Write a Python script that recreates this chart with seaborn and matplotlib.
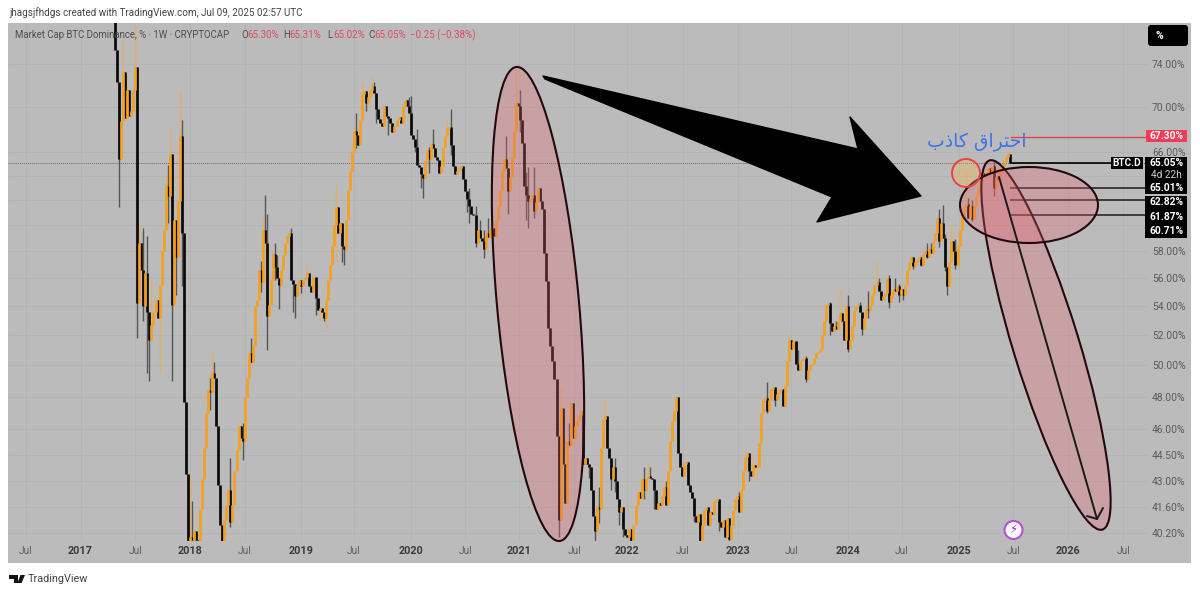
import numpy as np
import pandas as pd
import matplotlib
matplotlib.use("Agg")
import matplotlib.pyplot as plt
from matplotlib.patches import Ellipse, Polygon, Rectangle, FancyBboxPatch, Circle
from matplotlib.transforms import IdentityTransform
import seaborn as sns

closes = [
75.4,72.3,65.4,68.7,73.2,69.0,71.5,69.2,69.6,71.5,
73.7,54.2,58.6,56.6,54.0,56.4,53.6,51.7,52.7,53.6,
54.4,53.2,55.5,58.0,59.6,63.1,62.3,65.8,54.1,60.4,
57.6,61.9,67.4,59.4,47.7,43.4,39.8,40.0,39.85,40.3,
39.85,39.8,41.5,43.1,44.9,47.0,48.4,48.3,49.5,49.2,
46.2,42.8,40.6,39.8,40.9,41.7,42.5,40.8,41.7,43.6,
44.8,46.2,45.5,45.3,48.0,49.2,50.8,50.2,51.3,54.0,
54.4,56.6,55.7,59.6,58.6,53.3,54.1,55.9,57.8,56.8,
56.0,55.5,56.6,57.7,58.6,59.2,59.4,55.9,55.6,54.7,
55.5,55.9,55.4,55.9,56.1,56.4,55.4,55.0,56.1,54.6,
53.7,53.9,53.6,53.2,54.4,55.9,57.0,58.4,60.0,61.4,
59.4,60.2,58.4,58.2,60.4,62.8,64.4,66.0,67.8,67.5,
66.6,68.8,71.2,71.4,70.3,70.9,71.5,71.9,71.3,69.8,
68.9,68.5,68.3,70.1,69.2,69.0,68.5,67.7,68.3,68.8,
69.1,68.5,70.1,70.6,70.1,69.4,67.5,67.1,66.4,64.9,
64.7,64.1,63.8,65.2,66.2,65.4,66.7,66.3,65.6,65.3,
64.2,64.8,66.4,67.4,68.1,68.2,66.6,64.8,64.1,64.4,
64.6,64.8,63.7,62.7,62.1,61.5,60.9,60.8,58.6,59.6,
59.0,58.8,58.2,59.4,59.1,59.7,59.8,59.2,60.4,61.5,
62.8,64.4,65.4,64.6,62.7,63.9,65.6,67.8,70.3,70.1,
68.8,66.8,63.1,62.4,61.9,62.2,62.4,61.1,61.8,63.0,
61.9,61.3,57.9,55.8,52.5,51.3,50.3,49.1,45.6,40.9,
47.3,44.0,41.8,45.3,45.1,47.6,45.5,46.2,46.5,46.9,
47.1,44.0,44.3,44.0,43.8,42.5,41.1,40.3,41.6,41.5,
44.9,46.6,46.8,44.9,44.3,43.1,43.8,43.0,42.0,41.3,
41.6,40.4,40.1,40.0,40.4,39.8,40.6,41.7,42.4,42.1,
43.1,42.5,43.2,43.3,43.2,43.1,42.5,41.5,41.8,41.7,
42.2,42.7,41.7,43.6,45.3,46.5,47.1,48.0,44.6,43.8,
43.3,44.0,44.1,42.8,42.4,42.1,41.1,40.8,41.2,39.8,
40.6,41.4,41.6,40.6,41.3,41.2,41.9,42.0,40.8,40.5,
40.9,40.0,41.0,39.9,40.6,41.4,42.0,42.2,41.3,42.5,
43.6,44.4,44.6,43.6,43.3,43.9,43.8,43.8,45.2,47.0,
47.8,47.9,47.1,47.8,48.5,48.6,47.8,48.2,48.4,48.5,
47.4,48.7,50.3,51.7,51.1,51.6,50.1,49.7,50.3,50.4,
50.5,49.1,49.7,50.0,50.1,50.5,50.8,50.9,51.1,52.0,
53.0,54.1,54.2,52.8,52.3,52.6,52.4,53.0,53.5,53.0,
51.7,54.0,51.1,51.7,52.6,53.7,54.0,54.1,53.6,52.4,
53.2,53.8,53.7,54.1,54.8,55.5,55.7,55.1,54.4,54.7,
54.9,56.0,54.3,54.8,55.2,55.1,55.4,54.8,55.2,54.8,
55.5,56.6,57.2,57.6,56.9,57.2,57.4,57.6,57.0,57.8,
58.0,57.6,58.2,57.9,58.8,59.4,60.6,58.8,60.2,59.0,
56.8,55.4,57.2,58.8,58.0,57.0,58.4,59.6,60.8,61.5,
61.7,60.6,61.5,60.5,61.5,62.4,63.0,63.6,64.2,64.0,
64.3,64.6,64.3,64.8,63.0,63.9,63.7,64.3,64.8,65.2,
65.6,65.8,65.05]
first_open = 79.0

highs = {0:79,2:72,4:76.5,10:78,12:60,14:59.8,16:59.2,18:56,26:64.9,25:64,27:68,32:71.5,33:68.8,
 38:41.9,37:43.4,47:49.2,48:50.8,49:50.2,57:44.3,63:46.4,67:51.8,69:52.3,72:57.3,74:62.4,75:60.9,
 73:60.8,79:58.6,80:57.7,87:59.8,95:57,99:55.7,109:63.3,112:60.2,119:69.4,122:72.3,127:72.9,128:72.3,
 145:70.9,146:71,149:68,155:66.4,157:68,164:68.8,166:69.8,175:63,178:61.5,180:60.4,182:59.6,184:60.6,
 193:67.4,198:73.5,200:71.5,203:64.3,204:64.7,207:64.7,220:48.6,221:47.1,224:46.4,239:42.7,242:47.8,
 247:44.3,261:43.8,263:44,264:43.8,272:43,297:42.1,308:42.4,313:44.6,315:44.5,317:44,322:48.9,333:52.2,
 337:51,341:50.6,353:54.3,356:53,358:55.2,361:54,362:54.8,368:54.3,372:55.1,376:57.3,377:56,382:56.2,
 385:56,387:55.6,401:58.6,403:58.6,407:61.3,409:61.6,410:59.3,413:60,415:58.9,420:64.4,421:62.2,423:62,
 434:65.2,441:66.2,442:65.31}
lows = {2:61.4,11:51.8,14:53,16:49.5,17:49,22:49.5,26:60.2,28:49,30:54.8,33:55.4,47:47.2,57:40.5,63:44.2,
 72:55,75:51,79:55.9,81:53.8,88:53.6,89:53.2,92:54.9,99:53.4,101:53,103:53,104:52.5,109:57.2,112:57.2,
 113:57,119:66.3,124:69.6,129:68.5,135:67.5,148:66,151:63,152:62.2,155:64.2,166:65.7,174:61,175:60.2,
 178:58.3,182:57.5,194:60.9,200:67.7,203:60.4,204:59.8,207:60.6,219:40,234:43.2,237:39.8,239:40.7,245:42.5,
 247:42.4,248:42.3,249:40.6,251:40,261:42,266:41.5,286:40.8,298:40.3,303:39.8,313:43,317:42.9,322:47,326:47.4,
 341:48.9,353:52,362:50.9,369:52,372:53.2,382:53.9,387:54.3,389:54.4,394:56.7,398:56.9,401:57.5,407:58.3,
 410:56.5,411:54.8,415:56.7,423:60.3,434:62.3,442:65.02}

tick_bars = [-44,-17,10,37,64,92,118,146,173,199.5,226.7,253,280.5,307.6,334,362,388.6,416.8,443.5,470.6,497.8]
tick_names = ["Jul","2017","Jul","2018","Jul","2019","Jul","2020","Jul","2021","Jul","2022","Jul","2023","Jul","2024","Jul","2025","Jul","2026","Jul"]
price_ticks = [74,70,66,58,56,54,52,50,48,46,44.5,43,41.6,40.2]
price_names = ["74.00%","70.00%","66.00%","58.00%","56.00%","54.00%","52.00%","50.00%","48.00%","46.00%","44.50%","43.00%","41.60%","40.20%"]
grid_only = [64,62,60]

last_price = 65.05
alert_price = 67.30
fib_lines = [63.01,61.98,60.78]
label_rows = ["65.01%","62.82%","61.87%","60.71%"]

W,H = 1200,593
GREY = "#bbbbbb"
GRID = "#b3b3b3"
ORANGE = "#f5a01e"
BLACK = "#0a0a0a"

sns.set_theme(style="white")
plt.rcParams["font.family"] = ["Roboto","DejaVu Sans"]
plt.rcParams["axes.unicode_minus"] = False

fig = plt.figure(figsize=(W/100,H/100),dpi=100,facecolor="white")
def P(x,y): return (x,H-y)

fig.add_artist(Rectangle(P(8,563),1183,540,transform=IdentityTransform(),facecolor=GREY,edgecolor="none",zorder=-1))

ax = fig.add_axes([8/W,(H-541)/H,(1147-8)/W,518/H],facecolor=GREY)
ax.set_yscale("log")

opens = [first_open]+closes[:-1]
bars = np.arange(len(closes))
body_rows,wick_rows = [],[]
for b,o,c in zip(bars,opens,closes):
    d = "up" if c>=o else "down"
    body_rows += [(b,o,d),(b,c,d)]
    hi = highs.get(b,max(o,c)); lo = lows.get(b,min(o,c))
    wick_rows += [(b,hi,d),(b,lo,d)]
body = pd.DataFrame(body_rows,columns=["bar","price","dir"])
wick = pd.DataFrame(wick_rows,columns=["bar","price","dir"])

sns.lineplot(data=wick,x="bar",y="price",units="bar",hue="dir",estimator=None,sort=False,
             palette={"up":"#e9ae58","down":"#454545"},linewidth=1.0,alpha=0.85,legend=False,ax=ax,solid_capstyle="butt")
sns.lineplot(data=body,x="bar",y="price",units="bar",hue="dir",estimator=None,sort=False,
             palette={"up":ORANGE,"down":BLACK},linewidth=1.95,legend=False,ax=ax,solid_capstyle="butt")

K = np.log(74/40.2)/469
ax.set_ylim(40.2*np.exp(-8*K),40.2*np.exp(510*K))
PXBAR = 2.0253
ax.set_xlim((8-115)/PXBAR,(1147-115)/PXBAR)
ax.set_xlabel("");ax.set_ylabel("")
for s in ax.spines.values(): s.set_visible(False)

ax.yaxis.tick_right()
ax.minorticks_off()
ax.set_yticks(price_ticks)
ax.set_yticklabels(price_names)
ax.yaxis.set_minor_locator(matplotlib.ticker.NullLocator())
ax.tick_params(axis="y",length=0,pad=3.6,labelsize=7.4,labelcolor="#5a5a5a")
ax.set_xticks(tick_bars)
ax.set_xticklabels(tick_names)
ax.tick_params(axis="x",length=0,pad=3.5,labelsize=7.4,labelcolor="#606060")
for lab,name in zip(ax.get_xticklabels(),tick_names):
    if name!="Jul":
        lab.set_fontweight("bold"); lab.set_color("#3a3a3a"); lab.set_fontsize(7.8)
ax.grid(True,axis="both",color=GRID,linewidth=0.6)
for p in grid_only:
    ax.axhline(p,color=GRID,linewidth=0.6,zorder=0.5)
ax.set_axisbelow(True)

# price lines
xmax = ax.get_xlim()[1]
ax.axhline(last_price,color="#6a6a6a",linewidth=0.7,linestyle=(0,(1,1)),zorder=1)
ax.hlines(alert_price,bars[-1],xmax,color="#e8404f",linewidth=1.0,zorder=5)
ax.hlines(last_price,bars[-1],(1112-115)/PXBAR,color="black",linewidth=1.2,zorder=5)
ax.hlines(fib_lines,bars[-1],xmax,color="#1a1a1a",linewidth=1.1,zorder=5)

T = IdentityTransform()
# ellipses
PINK = (227/255,103/255,113/255,0.30)
EDGE = "#23090f"
for (cx,cy,a,b,ang) in [(538,304,238,41,95.2),(1046,345,193,33,107),(1029,205,69,38,0)]:
    fig.add_artist(Ellipse(P(cx,cy),2*a,2*b,angle=ang,transform=T,facecolor=PINK,edgecolor=EDGE,linewidth=1.5,zorder=3))
fig.add_artist(Circle(P(966,173),14,transform=T,facecolor=(1,0.72,0.25,0.30),edgecolor="#e8404f",linewidth=1.4,zorder=3))
# big arrow
arrow = [(543,76),(858,149),(850,117),(921,196),(817,222),(832,197),(545,79)]
fig.add_artist(Polygon([P(*q) for q in arrow],closed=True,transform=T,facecolor="black",edgecolor="black",linewidth=1,joinstyle="round",zorder=4))
# thin arrow in the long ellipse
fig.add_artist(plt.Line2D([999,1097],[H-177,H-519],transform=T,color="#1a1a1a",linewidth=1.4,zorder=4))
fig.add_artist(plt.Line2D([1087,1097,1103],[H-516,H-519,H-508],transform=T,color="#1a1a1a",linewidth=1.4,zorder=4))

# texts
def ptext(x,y,s,**k):
    k.setdefault("va","center");k.setdefault("ha","left")
    return fig.text(x/W,(H-y)/H,s,**k)
ptext(9,13,"jhagsjfhdgs created with TradingView.com, Jul 09, 2025 02:57 UTC",fontsize=7.1,color="#444444")
ptext(15,35,"Market Cap BTC Dominance, % · 1W · CRYPTOCAP",fontsize=6.9,color="#4e4e4e")
RED = "#df4a62"
for x,head,val in [(241,"O","65.30%"),(283,"H","65.31%"),(327,"L","65.02%"),(368,"C","65.05%")]:
    ptext(x,35,head,fontsize=7.0,color="#4e4e4e")
    ptext(x+6,35,val,fontsize=7.0,color=RED)
ptext(410,35,"−0.25 (−0.38%)",fontsize=7.0,color=RED)

# Arabic in shaped presentation forms, laid out left to right for drawing
ptext(977,142,"\uFE8F\uFEAB\uFE8E\uFEDB \uFED5\uFE8D\uFEAE\uFE98\uFEA3\uFE8D",fontsize=13.5,color="#3f74e6",ha="center",family="DejaVu Sans",zorder=6)

def box(x0,y0,x1,y1,fc):
    fig.add_artist(Rectangle(P(x0,y1),x1-x0,y1-y0,transform=T,facecolor=fc,edgecolor="none",zorder=6))
box(1146,130,1187,142,"#f23b55")
ptext(1166.5,136,"67.30%",fontsize=7.4,color="white",ha="center",fontweight="bold",zorder=7)
box(1111,157,1143,169,"black")
ptext(1127,163,"BTC.D",fontsize=7.2,color="white",ha="center",fontweight="bold",zorder=7)
box(1145,157,1187,194,"black")
ptext(1166.5,163,"65.05%",fontsize=7.4,color="white",ha="center",fontweight="bold",zorder=7)
ptext(1166.5,175,"4d 22h",fontsize=7.2,color="#cfcfcf",ha="center",zorder=7)
box(1145,196,1187,238,"black")
for y,s in zip([188,202,217,231],label_rows):
    ptext(1166.5,y,s,fontsize=7.4,color="white",ha="center",fontweight="bold",zorder=7)
fig.add_artist(FancyBboxPatch(P(1148,46),40,21,boxstyle="round,pad=0,rounding_size=3",transform=T,facecolor="black",edgecolor="none",zorder=6))
ptext(1159,36,"%",fontsize=7.5,color="white",ha="center",fontweight="bold",zorder=7)

# bolt badge
fig.add_artist(Circle(P(1013.5,530),9,transform=T,facecolor="white",edgecolor="#b44fd6",linewidth=1.5,zorder=6))
ptext(1013.5,530,"\u26A1",fontsize=8.5,color="#9c27b0",ha="center",family="DejaVu Sans",zorder=7)

# TradingView mark
logo1 = [(9,575),(18,575),(18,583),(13.5,583),(13.5,579),(9,579)]
logo2 = [(20.5,575),(25,575),(21.5,583),(17.5,583)]
for q in (logo1,logo2):
    fig.add_artist(Polygon([P(*v) for v in q],closed=True,transform=T,facecolor="#111111",edgecolor="none",zorder=6))
ptext(28,578.5,"TradingView",fontsize=7.8,color="#444444")

fig.savefig("out.png",dpi=100,facecolor="white")
